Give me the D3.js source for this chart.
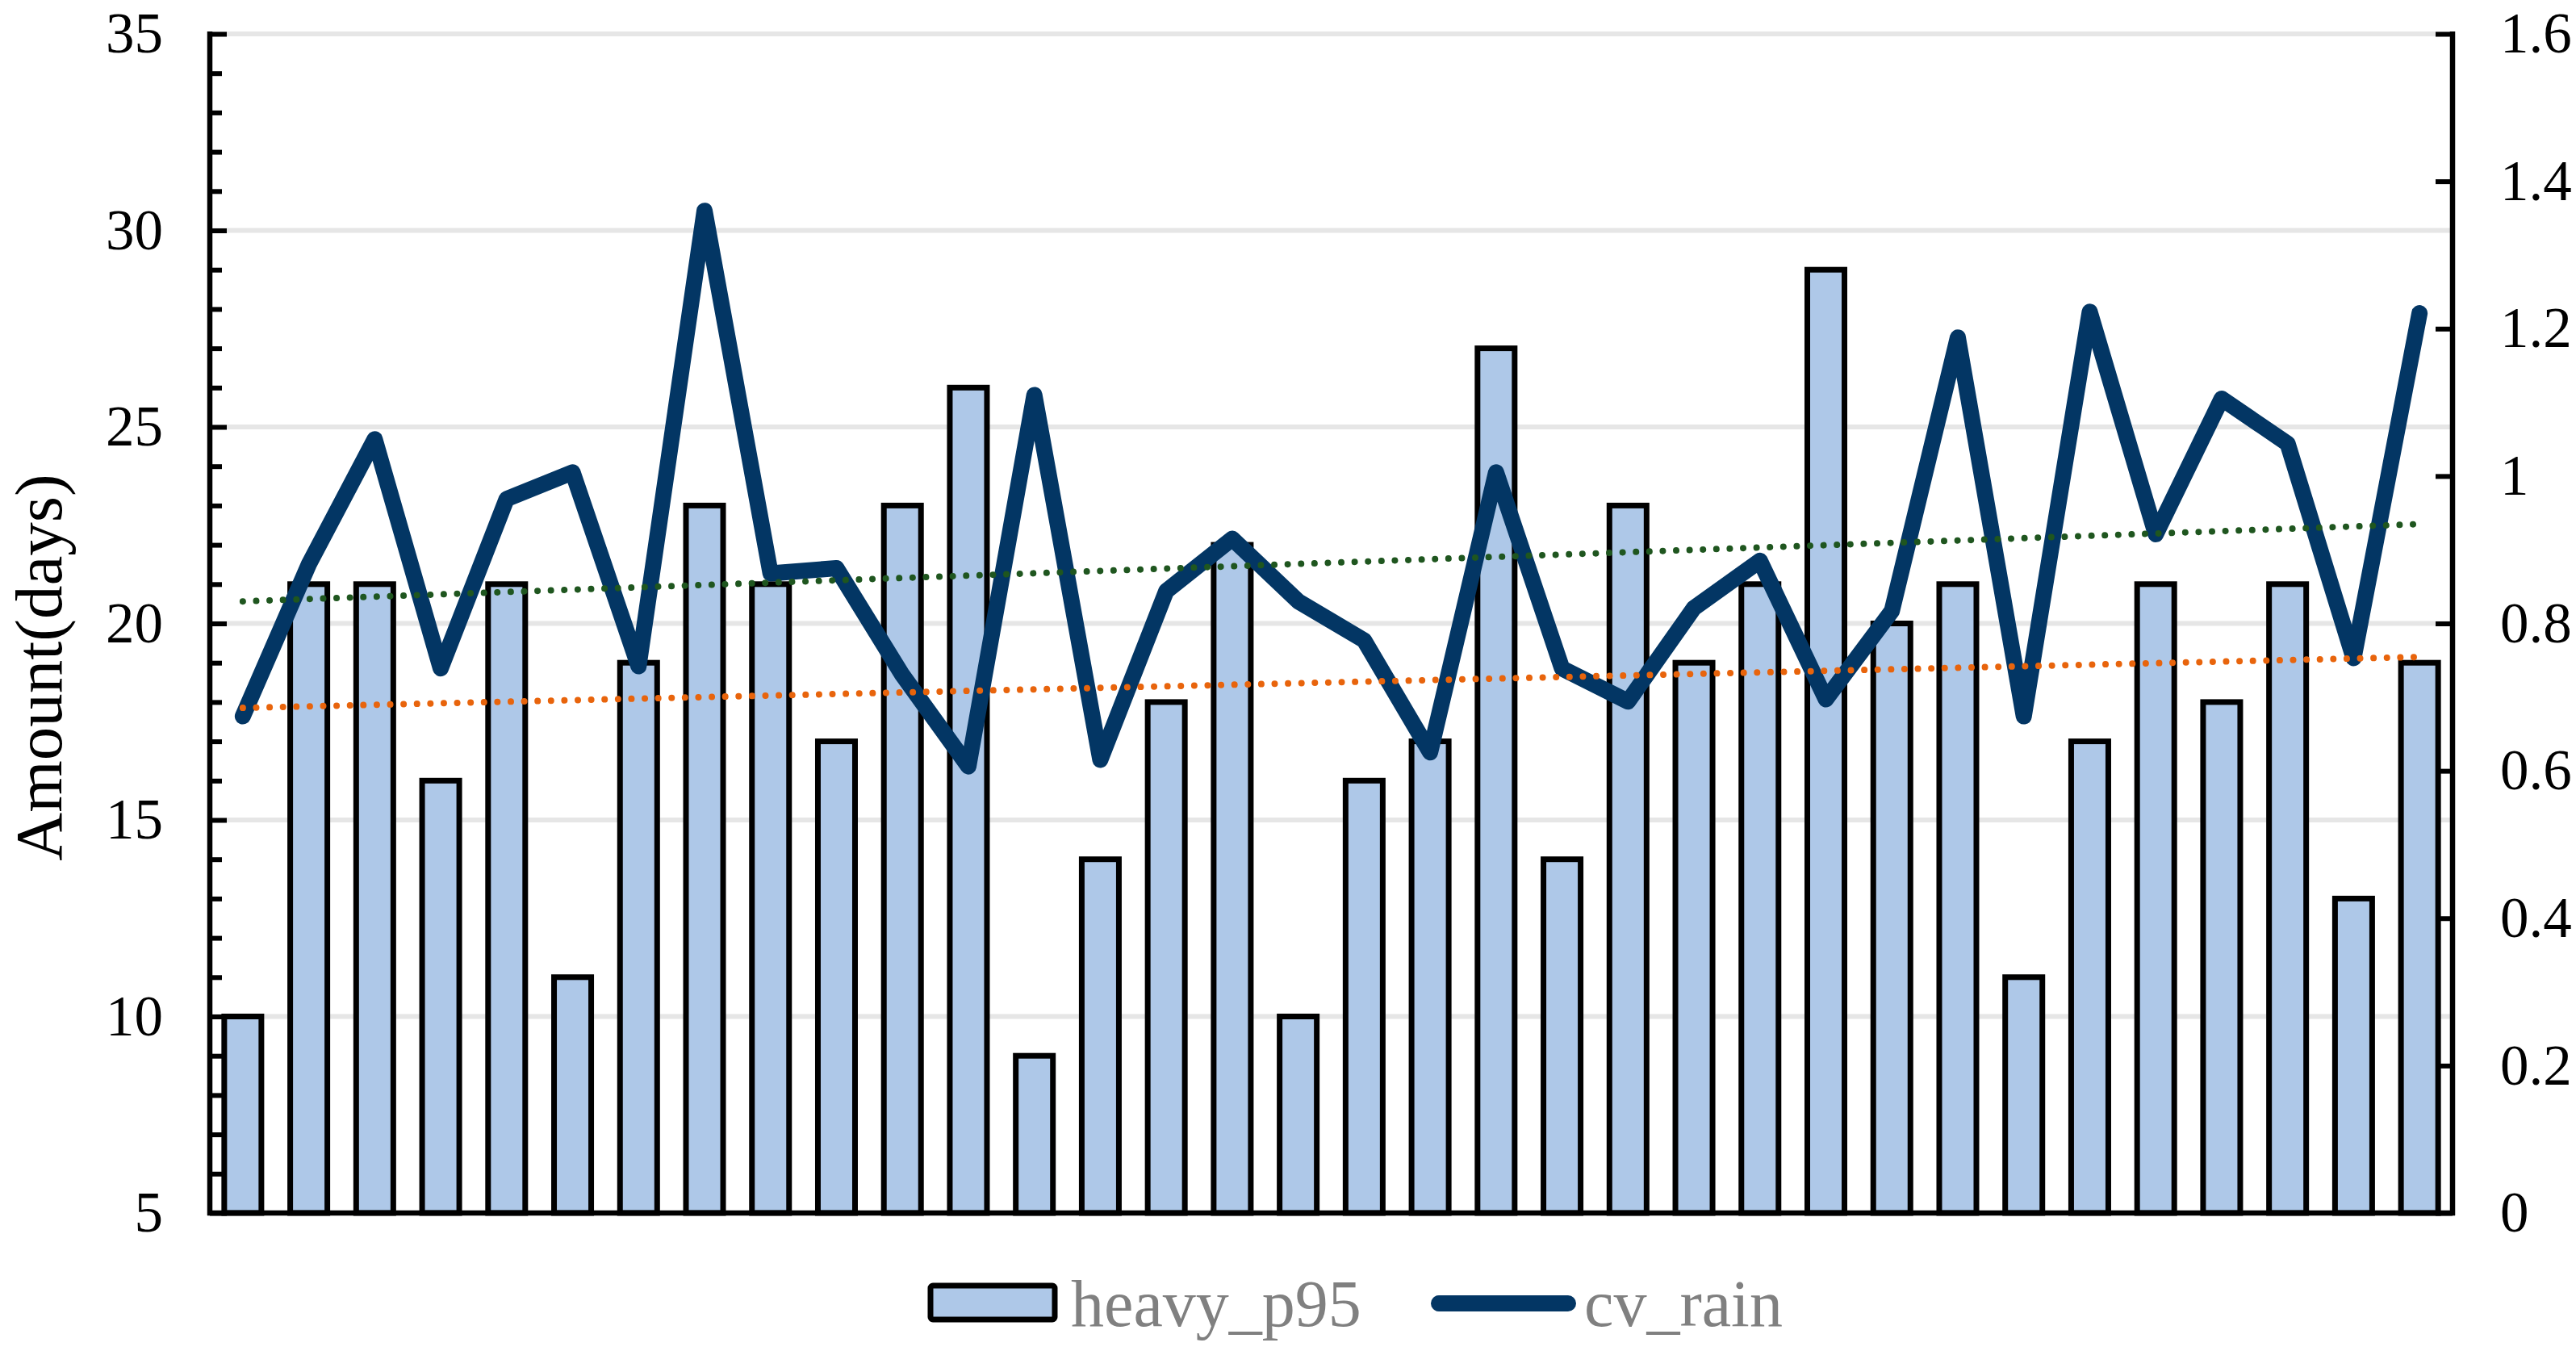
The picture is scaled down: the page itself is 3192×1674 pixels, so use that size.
<!DOCTYPE html>
<html>
<head>
<meta charset="utf-8">
<script src="https://cdn.jsdelivr.net/npm/d3@7"></script>
<style>
  html, body { margin: 0; padding: 0; background: #fff; }
  svg { display: block; }
</style>
</head>
<body>
<svg id="chart" width="3192" height="1674"></svg>
<script>
// ---------- data ----------
const categories = d3.range(1, 35).map(String);
const heavy_p95 = [10, 21, 21, 16, 21, 11, 19, 23, 21, 17,
                   23, 26, 9, 14, 18, 22, 10, 16, 17, 27,
                   14, 23, 19, 21, 29, 20, 21, 11, 17, 21,
                   18, 21, 13, 19];
const cv_rain = [0.674, 0.88, 1.05, 0.739, 0.969, 1.005, 0.742, 1.36, 0.868, 0.875,
                 0.73, 0.606, 1.11, 0.615, 0.844, 0.915, 0.83, 0.777, 0.625, 1.005,
                 0.739, 0.694, 0.821, 0.885, 0.697, 0.817, 1.188, 0.674, 1.223, 0.921,
                 1.105, 1.044, 0.753, 1.221];
const leftTicks = [5, 10, 15, 20, 25, 30, 35];
const rightTicks = [0, 0.2, 0.4, 0.6, 0.8, 1.0, 1.2, 1.4, 1.6];
const seriesNames = ["heavy_p95", "cv_rain"];
const yTitle = "Amount(days)";

// ---------- layout ----------
const W = 3192, H = 1674;
const X0 = 260, X1 = 3039, Y0 = 42, Y1 = 1503;
const FONT = "'Liberation Serif', 'Times New Roman', serif";
const barFill = "#aec8e8";
const lineColor = "#033664";
const orange = "#e8640c";
const green = "#1f561f";

const svg = d3.select("#chart");
svg.append("rect").attr("width", W).attr("height", H).attr("fill", "#fff");

const x = d3.scaleBand().domain(categories).range([X0, X1]).paddingInner(0.437).paddingOuter(0.2185);
const yL = d3.scaleLinear().domain([5, 35]).range([Y1, Y0]);
const yR = d3.scaleLinear().domain([0, 1.6]).range([Y1, Y0]);
const cx = c => x(c) + x.bandwidth() / 2;

// gridlines
svg.append("g").selectAll("line").data(leftTicks.filter(t => t > 5)).join("line")
  .attr("x1", X0).attr("x2", X1)
  .attr("y1", d => yL(d)).attr("y2", d => yL(d))
  .attr("stroke", "#e6e6e6").attr("stroke-width", 6);

// bars
svg.append("g").selectAll("rect").data(heavy_p95).join("rect")
  .attr("x", (d, i) => x(categories[i]))
  .attr("width", x.bandwidth())
  .attr("y", d => yL(d))
  .attr("height", d => yL(5) - yL(d))
  .attr("fill", barFill)
  .attr("stroke", "#000").attr("stroke-width", 7);

// cv line
const line = d3.line().x((d, i) => cx(categories[i])).y(d => yR(d));
svg.append("path").datum(cv_rain)
  .attr("d", line)
  .attr("fill", "none").attr("stroke", lineColor)
  .attr("stroke-width", 20).attr("stroke-linejoin", "round").attr("stroke-linecap", "round");

// linear trend lines (least squares of the series)
function trend(vals) {
  const n = vals.length, xs = d3.range(n);
  const mx = d3.mean(xs), my = d3.mean(vals);
  const b = d3.sum(xs, i => (i - mx) * (vals[i] - my)) / d3.sum(xs, i => (i - mx) ** 2);
  const a = my - b * mx;
  return [a, a + b * (n - 1)];
}
const tB = trend(heavy_p95), tC = trend(cv_rain);
const first = categories[0], last = categories[categories.length - 1];
svg.append("line")
  .attr("x1", cx(first)).attr("x2", cx(last))
  .attr("y1", yL(tB[0])).attr("y2", yL(tB[1]))
  .attr("stroke", orange).attr("stroke-width", 8)
  .attr("stroke-dasharray", "0.01 16.6").attr("stroke-linecap", "round");
svg.append("line")
  .attr("x1", cx(first)).attr("x2", cx(last))
  .attr("y1", yR(tC[0])).attr("y2", yR(tC[1]))
  .attr("stroke", green).attr("stroke-width", 8)
  .attr("stroke-dasharray", "0.01 16.6").attr("stroke-linecap", "round");

// axes
function styleAxis(g) {
  g.selectAll(".domain").remove();
  g.selectAll("line").attr("stroke", "#000").attr("stroke-width", 6);
  g.selectAll("text").attr("font-family", FONT).attr("font-size", 71).attr("fill", "#000");
}
// left minor ticks
const minor = d3.range(5, 36).filter(v => v % 5 !== 0);
svg.append("g").attr("transform", `translate(${X0},0)`)
  .call(d3.axisLeft(yL).tickValues(minor).tickSize(-15).tickFormat(""))
  .call(styleAxis);
// left major
svg.append("g").attr("transform", `translate(${X0},0)`)
  .call(d3.axisLeft(yL).tickValues(leftTicks).tickSize(-21).tickPadding(58).tickFormat(d3.format("d")))
  .call(styleAxis);
// right
svg.append("g").attr("transform", `translate(${X1},0)`)
  .call(d3.axisRight(yR).tickValues(rightTicks).tickSize(-21).tickPadding(59).tickFormat(d => String(+d.toFixed(1))))
  .call(styleAxis)
  .selectAll("text").attr("text-anchor", "start");

// axis lines
svg.append("line").attr("x1", X0).attr("x2", X0).attr("y1", Y0 - 3).attr("y2", Y1 + 3)
  .attr("stroke", "#000").attr("stroke-width", 6.5);
svg.append("line").attr("x1", X1).attr("x2", X1).attr("y1", Y0 - 3).attr("y2", Y1 + 3)
  .attr("stroke", "#000").attr("stroke-width", 6.5);
svg.append("line").attr("x1", X0 - 3).attr("x2", X1 + 3).attr("y1", Y1).attr("y2", Y1)
  .attr("stroke", "#000").attr("stroke-width", 6.5);

// y title
svg.append("text")
  .attr("transform", "translate(76,827) rotate(-90)")
  .attr("text-anchor", "middle")
  .attr("font-family", FONT).attr("font-size", 83).attr("fill", "#000")
  .text(yTitle);

// legend
const lg = svg.append("g");
lg.append("rect").attr("x", 1153).attr("y", 1593).attr("width", 154).attr("height", 42).attr("rx", 3)
  .attr("fill", barFill).attr("stroke", "#000").attr("stroke-width", 7);
lg.append("text").attr("x", 1327).attr("y", 1643)
  .attr("font-family", FONT).attr("font-size", 82).attr("fill", "#808080").text(seriesNames[0]);
lg.append("line").attr("x1", 1783).attr("x2", 1943).attr("y1", 1615).attr("y2", 1615)
  .attr("stroke", lineColor).attr("stroke-width", 20).attr("stroke-linecap", "round");
lg.append("text").attr("x", 1963).attr("y", 1643)
  .attr("font-family", FONT).attr("font-size", 82).attr("fill", "#808080").text(seriesNames[1]);
</script>
</body>
</html>
